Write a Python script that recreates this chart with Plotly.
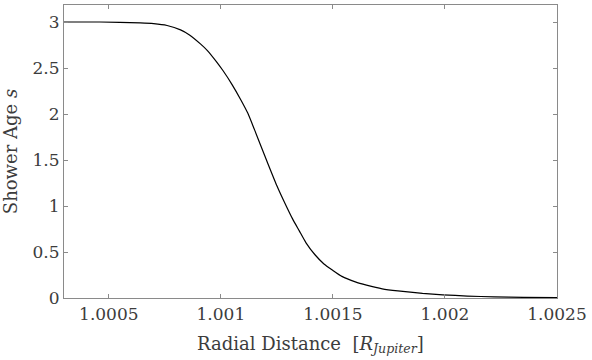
import plotly.graph_objects as go

# Data
radial_distance = [1.0003, 1.00046, 1.00064, 1.00070, 1.00076, 1.00082, 1.00086, 1.00091,
                   1.00094, 1.00098, 1.00101, 1.00105, 1.00109, 1.00112, 1.00115, 1.00118,
                   1.00121, 1.00125, 1.00128, 1.00132, 1.00135, 1.00138, 1.00142, 1.00146,
                   1.00150, 1.00154, 1.00160, 1.00165, 1.00172, 1.00179, 1.00190, 1.00199,
                   1.00210, 1.00222, 1.00235, 1.0025]
shower_age = [3.0, 3.0, 2.99, 2.982, 2.962, 2.915, 2.86, 2.76,
              2.69, 2.57, 2.47, 2.32, 2.15, 2.01, 1.83, 1.645,
              1.46, 1.22, 1.06, 0.86, 0.73, 0.60, 0.47, 0.37,
              0.30, 0.235, 0.175, 0.14, 0.10, 0.077, 0.050, 0.035,
              0.021, 0.012, 0.007, 0.004]

x_tickvals = [1.0005, 1.001, 1.0015, 1.002, 1.0025]
x_ticktext = ["1.0005", "1.001", "1.0015", "1.002", "1.0025"]
y_tickvals = [0, 0.5, 1, 1.5, 2, 2.5, 3]
y_ticktext = ["0", "0.5", "1", "1.5", "2", "2.5", "3"]

fig = go.Figure()
fig.add_trace(go.Scatter(x=radial_distance, y=shower_age, mode="lines",
                         line=dict(color="black", width=1.2, shape="spline", smoothing=0.5),
                         showlegend=False, hoverinfo="skip"))

font_family = "DejaVu Serif"
text_color = "#3c3c3c"
axis_common = dict(showgrid=False, zeroline=False, showline=True, linecolor="#8a8a8a",
                   linewidth=1.2, ticks="inside", ticklen=4, tickcolor="#8a8a8a",
                   mirror="ticks", automargin=False,
                   tickfont=dict(family=font_family, size=17, color=text_color))

fig.update_xaxes(range=[1.0003, 1.0025], tickvals=x_tickvals, ticktext=x_ticktext,
                 title=dict(text="Radial Distance  [<i>R</i><sub><i>Jupiter</i></sub>]",
                            font=dict(family=font_family, size=18, color=text_color), standoff=14),
                 **axis_common)
fig.update_yaxes(range=[0, 3.185], tickvals=y_tickvals, ticktext=y_ticktext,
                 title=dict(text="Shower Age <i>s</i>",
                            font=dict(family=font_family, size=18, color=text_color), standoff=10),
                 **axis_common)

fig.update_layout(width=592, height=360, margin=dict(l=64, r=35, t=5, b=62),
                  plot_bgcolor="white", paper_bgcolor="white")

fig.write_html("out.html", config={"displayModeBar": False},
               post_script="document.body.style.margin='0';")
